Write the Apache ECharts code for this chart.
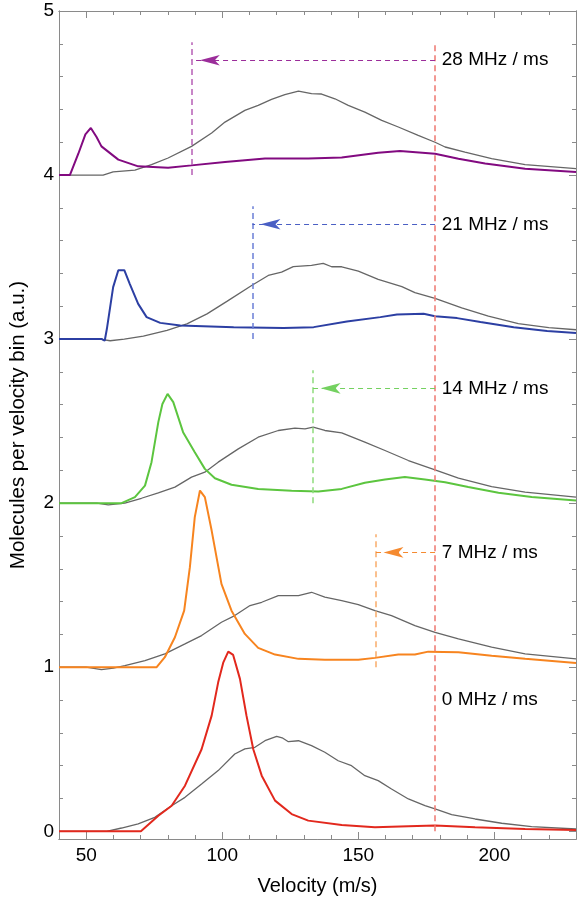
<!DOCTYPE html>
<html><head><meta charset="utf-8">
<script src="https://cdn.jsdelivr.net/npm/echarts@6/dist/echarts.min.js"></script>
<style>html,body{margin:0;padding:0;background:#fff}#c{width:577px;height:901px}</style>
</head><body><div id="c"></div>
<script>
// ---- data (velocity m/s, molecules per bin, offset per chirp) ----
const red0 = [[40,0],[70.1,0],[76.5,0.095],[81.4,0.156],[86.3,0.278],[92.4,0.50],[96.1,0.705],[98.5,0.908],[100.4,1.03],[102.2,1.095],[104,1.075],[106.5,0.929],[108.9,0.705],[111.4,0.5],[114.5,0.339],[119.4,0.187],[125.5,0.105],[131.6,0.065],[143.9,0.038],[156.1,0.024],[168.4,0.03],[178.2,0.035],[192.9,0.024],[211.3,0.014],[230,0.008]];
const gray0 = [[40,0],[57.5,0],[63,0.02],[69.1,0.045],[75.2,0.085],[81.4,0.156],[86.3,0.207],[92.4,0.288],[98.5,0.37],[104.6,0.471],[108.3,0.502],[112,0.512],[115.7,0.552],[120,0.579],[122,0.57],[124.3,0.546],[128,0.552],[132.8,0.522],[137.7,0.482],[142.6,0.43],[147.5,0.40],[152.4,0.339],[157.3,0.309],[162.2,0.258],[168.4,0.197],[174.5,0.156],[178.2,0.136],[184.3,0.102],[192.9,0.075],[202.7,0.049],[213.7,0.028],[230,0.014]];
const orange1 = [[40,1],[75.9,1],[78.9,1.061],[82.6,1.183],[86,1.345],[88.1,1.61],[89.9,1.915],[91.8,2.077],[93.6,2.037],[96.1,1.833],[99.7,1.508],[103.4,1.345],[108.3,1.203],[113.2,1.118],[119.4,1.077],[128,1.051],[137.7,1.045],[150,1.045],[156.1,1.057],[164.7,1.077],[170.8,1.077],[175.7,1.095],[186.8,1.091],[199,1.07],[211.3,1.051],[230,1.026]];
const gray1 = [[40,1],[50,1],[55.6,0.985],[60,0.995],[64.2,1.01],[71.6,1.04],[78.9,1.081],[86.3,1.142],[92.4,1.193],[99.7,1.274],[104.6,1.315],[110.2,1.376],[114.5,1.396],[120.6,1.437],[128,1.437],[132.8,1.457],[137.7,1.427],[143.9,1.406],[150,1.382],[156.1,1.345],[162.2,1.315],[170.8,1.254],[178.2,1.213],[186.8,1.173],[199,1.122],[211.3,1.081],[230,1.051]];
const green2 = [[40,2],[63,2],[67.9,2.037],[71.6,2.107],[74,2.25],[76.5,2.494],[78,2.605],[79.9,2.666],[82,2.616],[85.6,2.433],[89.9,2.311],[93.6,2.209],[97.3,2.152],[103.4,2.112],[113.2,2.087],[125.5,2.075],[135.3,2.071],[143.9,2.087],[152.4,2.124],[159.8,2.144],[167.1,2.159],[174.5,2.144],[181.9,2.128],[190.4,2.098],[201.5,2.063],[213.7,2.037],[230,2.016]];
const gray2 = [[40,2],[54,2],[58.1,1.99],[64.2,2.0],[70.3,2.03],[76.5,2.063],[82.6,2.098],[88.7,2.159],[93.6,2.189],[98.5,2.25],[105.9,2.331],[113.2,2.402],[120.6,2.443],[126.7,2.457],[130.4,2.453],[133.4,2.463],[137.7,2.443],[143.9,2.429],[152.4,2.372],[159.8,2.321],[168.4,2.26],[178.2,2.203],[186.8,2.152],[199,2.101],[211.3,2.067],[230,2.037]];
const blue3 = [[40,3],[55.8,3],[56.8,2.99],[57.6,3.063],[59.9,3.317],[61.8,3.42],[64,3.42],[66,3.337],[69.1,3.215],[72.2,3.134],[77.2,3.099],[84.6,3.083],[104.2,3.073],[122.5,3.067],[133.6,3.073],[145.8,3.108],[158.1,3.134],[164.2,3.15],[174,3.154],[178.2,3.14],[186.3,3.128],[194.9,3.104],[207.1,3.073],[219.4,3.049],[230,3.037]];
const gray3 = [[40,3],[55,3],[58.8,2.99],[64,3.0],[71,3.018],[79.7,3.053],[87,3.093],[94.4,3.154],[101.7,3.23],[110.8,3.327],[116.9,3.388],[121.8,3.408],[126.1,3.442],[132.8,3.45],[137.1,3.462],[140.2,3.441],[143.9,3.441],[150,3.415],[157.3,3.364],[166,3.32],[170.8,3.283],[178.2,3.248],[188,3.191],[197.8,3.14],[208.8,3.095],[220,3.07],[230,3.057]];
const purple4 = [[40,4],[44,4],[47.1,4.13],[49.7,4.248],[51.7,4.287],[53.8,4.232],[55.6,4.175],[61.8,4.094],[69.1,4.053],[80.1,4.045],[88.7,4.059],[101,4.08],[115.7,4.101],[131.6,4.101],[143.9,4.107],[157.3,4.136],[165.3,4.146],[178.2,4.13],[186.8,4.10],[196.6,4.07],[211.3,4.039],[230,4.018]];
const gray4 = [[40,4],[56.2,4],[59.9,4.02],[67.9,4.03],[74,4.063],[80.1,4.104],[88.7,4.175],[96.1,4.256],[101,4.323],[108.3,4.394],[113.2,4.425],[118.1,4.461],[123,4.49],[128,4.512],[132.8,4.496],[136.5,4.494],[141.4,4.465],[146.3,4.425],[152.4,4.384],[158.6,4.333],[164.7,4.293],[172,4.242],[178.2,4.20],[181.9,4.171],[189.2,4.14],[199,4.10],[211.3,4.063],[230,4.039]];

const rampLabels = ['28 MHz / ms', '21 MHz / ms', '14 MHz / ms', '7 MHz / ms', '0 MHz / ms'];
const labelY = [4.7, 3.7, 2.7, 1.7, 0.8];
const labelX = 180.5;
const cutoffX = [88.8, 111.1, 133.2, 156.3];   // velocity cut-off per chirp
const cutoffBase = [4, 3, 2, 1];
const cutoffTop = [4.81, 3.81, 2.81, 1.81];
const refX = 178.2;       // initial velocity class
const refTop = 4.81;

const xMajor = [50, 100, 150, 200];
const xMinor = [50, 60, 70, 80, 90, 100, 110, 120, 130, 140, 150, 160, 170, 180, 190, 200, 210, 220];
const yMajor = [0, 1, 2, 3, 4, 5];
const yMinor = [0, 0.2, 0.4, 0.6, 0.8, 1, 1.2, 1.4, 1.6, 1.8, 2, 2.2, 2.4, 2.6, 2.8, 3, 3.2, 3.4, 3.6, 3.8, 4, 4.2, 4.4, 4.6, 4.8, 5];

// ---- styling ----
const FONT = 'Liberation Sans';
const FRAME = '#8a8a8a';
const TXT = '#000';
const XMIN = 40, XMAX = 230, YMIN = -0.047, YMAX = 5.0;

function xAx(pos, ticks, len, labels, name) {
  return {
    type: 'value', position: pos, min: XMIN, max: XMAX,
    axisLine: { show: true, onZero: false, lineStyle: { color: FRAME, width: 1 } },
    axisTick: { show: true, inside: true, length: len, customValues: ticks, lineStyle: { color: FRAME, width: 1 } },
    axisLabel: labels ? { show: true, customValues: xMajor, margin: 7, fontSize: 19, fontFamily: FONT, color: TXT } : { show: false },
    splitLine: { show: false },
    name: name || '', nameLocation: 'middle', nameGap: 37,
    nameTextStyle: { fontSize: 20, fontFamily: FONT, color: TXT }
  };
}
function yAx(pos, ticks, len, labels, name) {
  return {
    type: 'value', position: pos, min: YMIN, max: YMAX,
    axisLine: { show: true, onZero: false, lineStyle: { color: FRAME, width: 1 } },
    axisTick: { show: true, inside: true, length: len, customValues: ticks, lineStyle: { color: FRAME, width: 1 } },
    axisLabel: labels ? { show: true, customValues: yMajor, margin: 5, fontSize: 19, fontFamily: FONT, color: TXT } : { show: false },
    splitLine: { show: false },
    name: name || '', nameLocation: 'middle', nameGap: 30, nameRotate: 90,
    nameTextStyle: { fontSize: 20.5, fontFamily: FONT, color: TXT }
  };
}

const GRAY = '#666666';
const curves = [
  { d: red0,    g: gray0, c: '#e2281d' },
  { d: orange1, g: gray1, c: '#f7841f', v: '#f9ac6a', h: '#f58a30' },
  { d: green2,  g: gray2, c: '#5cc53f', v: '#8fdc7c', h: '#74d160' },
  { d: blue3,   g: gray3, c: '#2c3fa3', v: '#6b7fd6', h: '#4a5fc4' },
  { d: purple4, g: gray4, c: '#820a80', v: '#b65fb5', h: '#9b2d9a' }
];

const series = [];
curves.forEach(cv => {
  series.push({ type: 'line', data: cv.g, showSymbol: false, symbol: 'none', z: 2,
    lineStyle: { color: GRAY, width: 1.3 }, animation: false, silent: true });
});
curves.forEach((cv, i) => {
  const s = { type: 'line', data: cv.d, showSymbol: false, symbol: 'none', z: 3,
    lineStyle: { color: cv.c, width: 2 }, animation: false, silent: true };
  if (i > 0) {
    const k = 4 - i; // index into chirp arrays (purple first)
    s.markLine = {
      silent: true, animation: false, symbol: ['none', 'none'], label: { show: false },
      emphasis: { disabled: true },
      data: [
        [{ coord: [cutoffX[k], cutoffBase[k]], lineStyle: { color: cv.v, width: 1.5, type: [6, 4] } },
         { coord: [cutoffX[k], cutoffTop[k]] }],
        [{ coord: [refX, labelY[k]], lineStyle: { color: cv.h, width: 1, type: [5, 4] } },
         { coord: [cutoffX[k], labelY[k]], symbol: 'arrow', symbolSize: [8, 20], symbolOffset: [0, 8], itemStyle: { color: cv.c } }]
      ]
    };
  } else {
    s.markLine = {
      silent: true, animation: false, symbol: ['none', 'none'], label: { show: false },
      emphasis: { disabled: true },
      data: [
        [{ coord: [refX, 0], lineStyle: { color: '#ef7f78', width: 1.6, type: [6, 4] } },
         { coord: [refX, refTop] }]
      ]
    };
  }
  series.push(s);
});
series.push({
  type: 'scatter', data: labelY.map(y => [labelX, y]), symbol: 'circle', symbolSize: 1,
  itemStyle: { color: 'rgba(0,0,0,0)', opacity: 1 }, z: 5, animation: false, silent: true,
  label: { show: true, position: 'right', distance: 0, fontSize: 19, fontFamily: FONT, color: TXT, opacity: 1,
    formatter: p => rampLabels[p.dataIndex] }
});

const chart = echarts.init(document.getElementById('c'));
chart.setOption({
  animation: false,
  grid: { left: 58, right: 1, top: 11, bottom: 61, containLabel: false },
  xAxis: [
    xAx('bottom', xMajor, 7, true, 'Velocity (m/s)'),
    xAx('bottom', xMinor, 4, false),
    xAx('top', xMajor, 7, false),
    xAx('top', xMinor, 4, false)
  ],
  yAxis: [
    yAx('left', yMajor, 7, true, 'Molecules per velocity bin (a.u.)'),
    yAx('left', yMinor, 4, false),
    yAx('right', yMajor, 7, false),
    yAx('right', yMinor, 4, false)
  ],
  series: series
});
</script></body></html>
